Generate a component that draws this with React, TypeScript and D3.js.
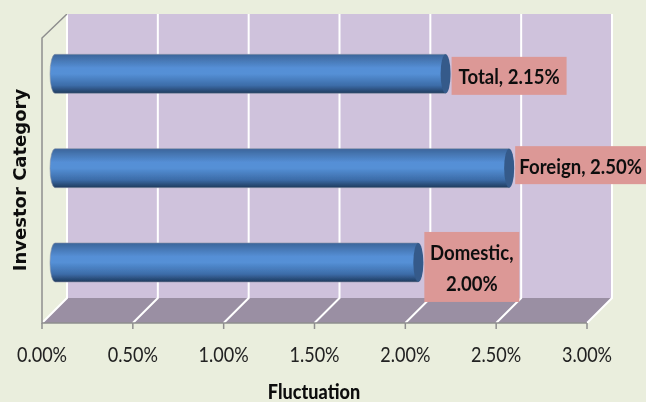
import React from "react";
import * as d3 from "d3";

const categories = ["Total", "Foreign", "Domestic"];
const fluctuation = [2.15, 2.5, 2.0];
const labelLines = [["Total, 2.15%"], ["Foreign, 2.50%"], ["Domestic,", "2.00%"]];
const labelBoxes = [115, 131, 95];
const labelHeights = [38, 38, 70];
const labelShift = [2, -3, 4.5];
const ticks = [0, 0.5, 1, 1.5, 2, 2.5, 3];

const width = 646;
const height = 402;

// front edge of the floor, the back wall sits up and to the right of it
const xFront = d3.scaleLinear().domain([0, 3]).range([42, 587]);
const depthX = 25;
const depthY = 25;
const wallTop = 14;
const floorFront = 323;
const floorBack = floorFront - depthY;

const y = d3.scaleBand<string>().domain(categories).range([26.7, 309.6]);
const barHeight = 39;
const barShift = 13;
const capRx = 5;

const fontBody = "Lato, 'Open Sans', sans-serif";
const narrow = 0.86; // Lato squeezed a bit to get closer to the original face

function NarrowText({
  x,
  y: ty,
  size,
  weight = 400,
  fill = "#111",
  children,
}: {
  x: number;
  y: number;
  size: number;
  weight?: number;
  fill?: string;
  children: React.ReactNode;
}) {
  return (
    <text
      transform={`translate(${x},${ty}) scale(${narrow},1)`}
      textAnchor="middle"
      fontFamily={fontBody}
      fontSize={size}
      fontWeight={weight}
      fill={fill}
    >
      {children}
    </text>
  );
}

export default function App() {
  const backX = (v: number) => xFront(v) + depthX;
  const barX = (v: number) => xFront(v) + barShift;

  return (
    <svg
      width={width}
      height={height}
      style={{ position: "absolute", left: 0, top: 0, display: "block" }}
    >
      <defs>
        <linearGradient id="barFill" x1="0" y1="0" x2="0" y2="1">
          <stop offset="0" stopColor="#3c659a" />
          <stop offset="0.35" stopColor="#558fd6" />
          <stop offset="0.5" stopColor="#5590d6" />
          <stop offset="0.8" stopColor="#3c6ca8" />
          <stop offset="1" stopColor="#1f3a5c" />
        </linearGradient>
        <filter id="soft" x="0" y="0" width="1" height="1">
          <feGaussianBlur stdDeviation="0.35" />
        </filter>
      </defs>
      <rect width={width} height={height} fill="#eaeedd" />

      <g filter="url(#soft)">
        {/* back wall */}
        <rect
          x={backX(0)}
          y={wallTop}
          width={backX(3) - backX(0)}
          height={floorBack - wallTop}
          fill="#cfc2dc"
        />
        {/* floor */}
        <path
          d={`M${xFront(0)},${floorFront}L${backX(0)},${floorBack}L${backX(3)},${floorBack}L${xFront(3)},${floorFront}Z`}
          fill="#9a8fa3"
        />
        {/* gridlines */}
        {ticks.map((t) => (
          <path
            key={t}
            d={`M${backX(t)},${wallTop}V${floorBack}L${xFront(t)},${floorFront}`}
            fill="none"
            stroke="#ffffff"
            strokeWidth={2}
          />
        ))}
        {/* axes */}
        <path
          d={`M${backX(0)},${wallTop}L${xFront(0)},38V${floorFront}H${xFront(3)}`}
          fill="none"
          stroke="#8e8e8e"
          strokeWidth={1.5}
        />
        {ticks.map((t) => (
          <line
            key={t}
            x1={xFront(t)}
            x2={xFront(t)}
            y1={floorFront}
            y2={floorFront + 6}
            stroke="#8e8e8e"
            strokeWidth={1.5}
          />
        ))}
        {ticks.map((t) => (
          <NarrowText key={t} x={xFront(t)} y={362} size={21} fill="#222">
            {d3.format(".2f")(t)}%
          </NarrowText>
        ))}

        {/* bars */}
        {categories.map((c, i) => {
          const top = y(c)! + y.bandwidth() / 2 - barHeight / 2;
          const x0 = barX(0);
          const x1 = barX(fluctuation[i]);
          const ry = barHeight / 2;
          return (
            <g key={c}>
              <path
                d={`M${x0},${top}H${x1}V${top + barHeight}H${x0}A${capRx},${ry} 0 0 1 ${x0},${top}Z`}
                fill="url(#barFill)"
                stroke="#8a93a8"
                strokeWidth={0.6}
              />
              <ellipse cx={x1} cy={top + ry} rx={capRx} ry={ry} fill="#345a8a" />
            </g>
          );
        })}

        {/* data labels */}
        {categories.map((c, i) => {
          const mid = y(c)! + y.bandwidth() / 2 + labelShift[i];
          const left = barX(fluctuation[i]) + capRx + 1;
          const boxH = labelHeights[i];
          const lines = labelLines[i];
          return (
            <g key={c}>
              <rect
                x={left}
                y={mid - boxH / 2}
                width={labelBoxes[i]}
                height={boxH}
                fill="#dc9896"
              />
              {lines.map((line, j) => (
                <NarrowText
                  key={line}
                  x={left + labelBoxes[i] / 2}
                  y={mid + 8.5 + (j - (lines.length - 1) / 2) * 31}
                  size={21.6}
                  weight={700}
                >
                  {line}
                </NarrowText>
              ))}
            </g>
          );
        })}

        {/* axis titles */}
        <NarrowText x={314} y={399} size={21} weight={900}>
          Fluctuation
        </NarrowText>
        <text
          transform="translate(26,180) rotate(-90)"
          textAnchor="middle"
          fontFamily="'DejaVu Sans', sans-serif"
          fontSize={18}
          fontWeight={700}
          fill="#111"
        >
          Investor Category
        </text>
      </g>
    </svg>
  );
}
